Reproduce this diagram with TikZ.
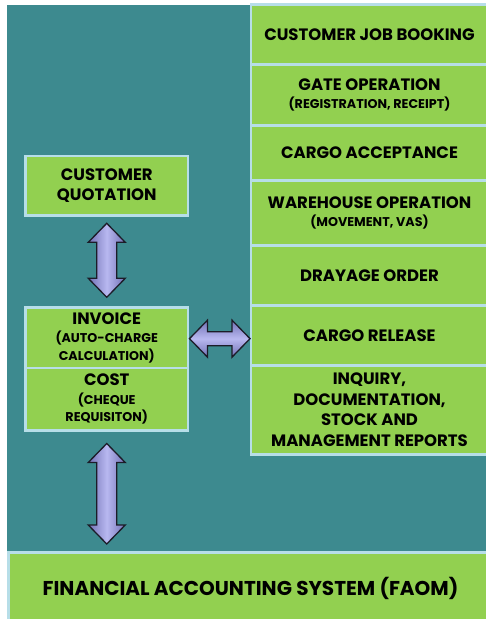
\documentclass[tikz,border=0pt]{standalone}
\usepackage{fontspec}
\setmainfont{Poppins}
\usetikzlibrary{calc}
\definecolor{teal0}{HTML}{3D8A8F}
\definecolor{grn}{HTML}{92D050}
\definecolor{lblue}{HTML}{B7DEE8}
\definecolor{arrL}{HTML}{7070B4}
\definecolor{arrM}{HTML}{B8B8F0}
\definecolor{arrD}{HTML}{1C1C28}
\newcommand\bigtxt{\fontsize{16.5}{20.5}\selectfont}
\newcommand\smalltxt{\fontsize{12.7}{15}\selectfont}
\tikzset{
  box/.style={draw=lblue, line width=2.6pt, fill=grn, inner sep=0pt, outer sep=0pt,
    align=center, font=\bfseries\bigtxt, text=black, anchor=north west},
  arrowshape/.style={draw=arrD, line width=1.3pt, line join=miter},
  vshade/.style={left color=arrL, right color=arrL, middle color=arrM},
  hshade/.style={top color=arrL, bottom color=arrL, middle color=arrM},
}
\newcommand\vdarrow[2]{%
  \path[arrowshape, vshade] let \p1=#1, \p2=#2 in
    (\x1,\y1) -- (\x1+18.5pt,\y1-19pt) -- (\x1+10pt,\y1-19pt) -- (\x1+10pt,\y2+19pt)
    -- (\x1+18.5pt,\y2+19pt) -- (\x1,\y2) -- (\x1-18.5pt,\y2+19pt) -- (\x1-10pt,\y2+19pt)
    -- (\x1-10pt,\y1-19pt) -- (\x1-18.5pt,\y1-19pt) -- cycle;}
\newcommand\hdarrow[2]{%
  \path[arrowshape, hshade] let \p1=#1, \p2=#2 in
    (\x1,\y1) -- (\x1+18pt,\y1+18.5pt) -- (\x1+18pt,\y1+7pt) -- (\x2-18pt,\y1+7pt)
    -- (\x2-18pt,\y1+18.5pt) -- (\x2,\y1) -- (\x2-18pt,\y1-18.5pt) -- (\x2-18pt,\y1-7pt)
    -- (\x1+18pt,\y1-7pt) -- (\x1+18pt,\y1-18.5pt) -- cycle;}
\begin{document}
\begin{tikzpicture}[x=1pt, y=-1pt]
  \useasboundingbox (0,0) rectangle (486,619);
  % background panel
  \fill[teal0] (7,5.3) rectangle (490,551);
  % right column
  \node[box, minimum width=237pt, minimum height=60pt] (job) at (251,4.3) {CUSTOMER JOB BOOKING};
  \node[box, minimum width=237pt, minimum height=61pt] (gate) at (251,64.3)
    {GATE OPERATION\\[-2pt]\smalltxt (REGISTRATION, RECEIPT)};
  \node[box, minimum width=237pt, minimum height=55pt] (accept) at (251,125.3) {CARGO ACCEPTANCE};
  \node[box, minimum width=237pt, minimum height=65pt] (ware) at (251,180.3)
    {WAREHOUSE OPERATION\\[-2pt]\smalltxt (MOVEMENT, VAS)};
  \node[box, minimum width=237pt, minimum height=60pt] (dray) at (251,245.3) {DRAYAGE ORDER};
  \node[box, minimum width=237pt, minimum height=60pt] (crel) at (251,305.3) {CARGO RELEASE};
  \node[box, minimum width=237pt, minimum height=89.2pt] (inq) at (251,365.3)
    {INQUIRY,\\DOCUMENTATION,\\STOCK AND\\MANAGEMENT REPORTS};
  % left column
  \node[box, minimum width=162.5pt, minimum height=59.3pt] (quote) at (25.5,156)
    {CUSTOMER\\QUOTATION};
  \node[box, minimum width=162.5pt, minimum height=60.7pt] (inv) at (25.5,307.3)
    {INVOICE\\[-2pt]\smalltxt (AUTO-CHARGE\\[-3pt]\smalltxt CALCULATION)};
  \node[box, minimum width=162.5pt, minimum height=62.5pt] (cost) at (25.5,368)
    {COST\\[-2pt]\smalltxt (CHEQUE\\[-3pt]\smalltxt REQUISITON)};
  % bottom bar
  \node[box, minimum width=482pt, minimum height=72pt, font=\bfseries\fontsize{20}{24}\selectfont] (faom) at (8.5,552.5)
    {\hspace*{2pt}FINANCIAL ACCOUNTING SYSTEM (FAOM)};
  % connectors
  \path (quote.south) ++(0,8) coordinate (a1t);
  \path (inv.north) ++(0,-10) coordinate (a1b);
  \vdarrow{(a1t)}{(a1b)}
  \path (cost.south) ++(0,13) coordinate (a2t);
  \path (faom.north) ++(0,-8.5) coordinate (a2b);
  \vdarrow{(a2t)}{(a2b)}
  \path (inv.east) ++(1.5,1) coordinate (a3l);
  \path (a3l -| crel.west) ++(-1,0) coordinate (a3r);
  \hdarrow{(a3l)}{(a3r)}
\end{tikzpicture}
\end{document}
